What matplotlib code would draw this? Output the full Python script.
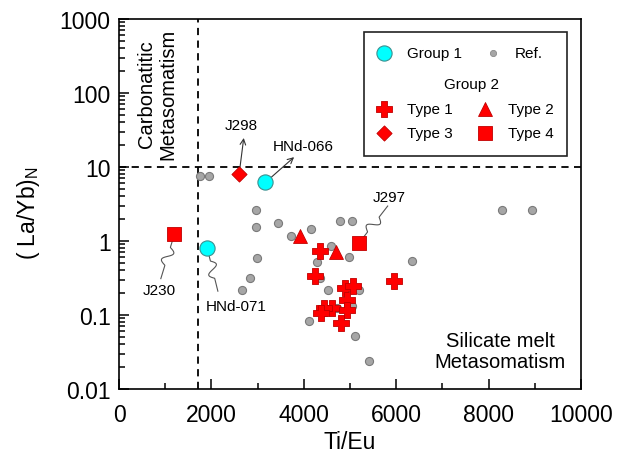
import numpy as np
import matplotlib
matplotlib.use("Agg")
import matplotlib.pyplot as plt

plt.rcParams['font.family'] = ['Liberation Sans', 'DejaVu Sans']
plt.rcParams['mathtext.fontset'] = 'custom'
plt.rcParams['mathtext.rm'] = 'Liberation Sans'

# Reference samples (grey dots)
ref_tieu = [1750, 1950, 2960, 2960, 3450, 3730, 4160, 4780, 5040, 4590, 4970, 4290,
            2990, 2830, 2670, 4360, 4530, 5190, 5040, 4710, 4110, 5100, 5410, 6350,
            8280, 8950]
ref_layb = [7.6, 7.6, 2.65, 1.56, 1.75, 1.16, 1.44, 1.88, 1.88, 0.86, 0.61, 0.52,
            0.59, 0.32, 0.22, 0.32, 0.22, 0.22, 0.134, 0.124, 0.082, 0.0525, 0.0237, 0.54,
            2.6, 2.6]

# Group 1
g1_tieu = [3170, 1910]
g1_layb = [6.2, 0.80]

# Group 2
t1_tieu = [4360, 4240, 4890, 5065, 4935, 4610, 4430, 4370, 4935, 4815, 5950]
t1_layb = [0.73, 0.34, 0.23, 0.25, 0.158, 0.124, 0.124, 0.105, 0.118, 0.077, 0.29]
t2_tieu = [3920, 4690]
t2_layb = [1.17, 0.70]
t3_tieu = [2600]
t3_layb = [8.0]
t4_tieu = [5195, 1200]
t4_layb = [0.94, 1.24]

ytick_vals = [0.01, 0.1, 1, 10, 100, 1000]
ytick_labels = ['0.01', '0.1', '1', '10', '100', '1000']
xtick_vals = [0, 2000, 4000, 6000, 8000, 10000]

ti_eu_limit = 1700
layb_limit = 10

grey = dict(marker='o', s=34, c='#a6a6a6', edgecolors='#7a7a7a', linewidths=0.8, zorder=3)
cyan = dict(marker='o', s=120, c='#00ffff', edgecolors='#3c8f8f', linewidths=0.8, zorder=4)
red = dict(c='#ff0000', edgecolors='#c00000', linewidths=0.6, zorder=5)

fig = plt.figure(figsize=(6.27, 4.56), dpi=100)
ax = fig.add_axes([0.1898, 0.1447, 0.7368, 0.8114])
ax.set_yscale('log')
ax.set_xlim(0, 10000)
ax.set_ylim(0.01, 1000)

ax.axvline(ti_eu_limit, color='black', ls=(0, (4, 3)), lw=1.3, zorder=1)
ax.axhline(layb_limit, color='black', ls=(0, (4, 3)), lw=1.3, zorder=1)

ax.scatter(ref_tieu, ref_layb, **grey)
ax.scatter(g1_tieu, g1_layb, **cyan)
ax.scatter(t1_tieu, t1_layb, marker='P', s=120, **red)
ax.scatter(t2_tieu, t2_layb, marker='^', s=100, **red)
ax.scatter(t3_tieu, t3_layb, marker='D', s=60, **red)
ax.scatter(t4_tieu, t4_layb, marker='s', s=90, **red)

# axes styling
ax.set_xticks(xtick_vals)
ax.set_xticks(np.arange(1000, 10000, 2000), minor=True)
ax.set_yticks(ytick_vals)
ax.set_yticklabels(ytick_labels)
ax.tick_params(which='both', direction='in', width=1.1, labelsize=16.5)
ax.tick_params(which='major', length=7)
ax.tick_params(which='minor', length=4.5)
ax.tick_params(axis='x', pad=10)
ax.tick_params(axis='y', pad=6)
for sp in ax.spines.values():
    sp.set_linewidth(1.2)

ax.set_xlabel('Ti/Eu', fontsize=16.5, va='center')
ax.xaxis.set_label_coords(0.5, -0.143)
ax.set_ylabel('( La/Yb)$_\\mathrm{N}$', fontsize=16.5, va='center')
ax.yaxis.set_label_coords(-0.195, 0.478)

ax.text(0.083, 0.80, 'Carbonatitic\nMetasomatism', transform=ax.transAxes,
        rotation=90, ha='center', va='center', fontsize=14.5, linespacing=1.15)
ax.text(0.825, 0.103, 'Silicate melt\nMetasomatism', transform=ax.transAxes,
        ha='center', va='center', fontsize=14.5, linespacing=1.1)

# labelled samples with arrows
arrow = dict(arrowstyle='->', color='#333333', lw=0.8, shrinkA=0, shrinkB=0)
ax.annotate('', xy=(2700, 24.7), xytext=(t3_tieu[0], t3_layb[0]), arrowprops=arrow)
ax.text(2640, 37, 'J298', ha='center', va='center', fontsize=11)
ax.annotate('', xy=(3790, 13.6), xytext=(g1_tieu[0], g1_layb[0]), arrowprops=arrow)
ax.text(3980, 19.2, 'HNd-066', ha='center', va='center', fontsize=11)


def squiggle(x0, y0, x1, y1, amp=5.0):
    # wavy leader drawn in pixel space, converted back to data coordinates
    p0 = ax.transData.transform((x0, y0))
    p1 = ax.transData.transform((x1, y1))
    d = p1 - p0
    n = np.array([-d[1], d[0]]) / np.hypot(*d)
    t = np.linspace(0, 1, 120)
    w = np.where((t > 0.3) & (t < 0.7), amp * np.sin(2 * np.pi * (t - 0.3) / 0.4), 0)
    pts = p0 + np.outer(t, d) + np.outer(w, n)
    data = ax.transData.inverted().transform(pts)
    ax.plot(data[:, 0], data[:, 1], color='#555555', lw=0.8, zorder=2)


squiggle(t4_tieu[1], t4_layb[1], 905, 0.31)
ax.text(880, 0.22, 'J230', ha='center', va='center', fontsize=11)
squiggle(g1_tieu[1], g1_layb[1], 2140, 0.21)
ax.text(2530, 0.132, 'HNd-071', ha='center', va='center', fontsize=11)
squiggle(t4_tieu[0], t4_layb[0], 5816, 2.97)
ax.text(5840, 3.9, 'J297', ha='center', va='center', fontsize=11)

# legend box
ax.add_patch(plt.Rectangle((0.530, 0.630), 0.440, 0.335, transform=ax.transAxes,
                           fill=False, ec='#222222', lw=1.2, zorder=6))
lt = ax.transAxes
lfs = 11
ax.scatter([0.574], [0.908], transform=lt, **cyan)
ax.text(0.623, 0.908, 'Group 1', transform=lt, va='center', fontsize=lfs)
ax.scatter([0.810], [0.908], transform=lt, marker='o', s=20, c='#a6a6a6',
           edgecolors='#8a8a8a', linewidths=0.6, zorder=5)
ax.text(0.857, 0.908, 'Ref.', transform=lt, va='center', fontsize=lfs)
ax.text(0.764, 0.824, 'Group 2', transform=lt, ha='center', va='center', fontsize=lfs)
ax.scatter([0.574], [0.757], transform=lt, marker='P', s=120, **red)
ax.text(0.623, 0.757, 'Type 1', transform=lt, va='center', fontsize=lfs)
ax.scatter([0.792], [0.757], transform=lt, marker='^', s=100, **red)
ax.text(0.842, 0.757, 'Type 2', transform=lt, va='center', fontsize=lfs)
ax.scatter([0.574], [0.692], transform=lt, marker='D', s=60, **red)
ax.text(0.623, 0.692, 'Type 3', transform=lt, va='center', fontsize=lfs)
ax.scatter([0.792], [0.692], transform=lt, marker='s', s=90, **red)
ax.text(0.842, 0.692, 'Type 4', transform=lt, va='center', fontsize=lfs)

fig.savefig('out.png', dpi=100)
